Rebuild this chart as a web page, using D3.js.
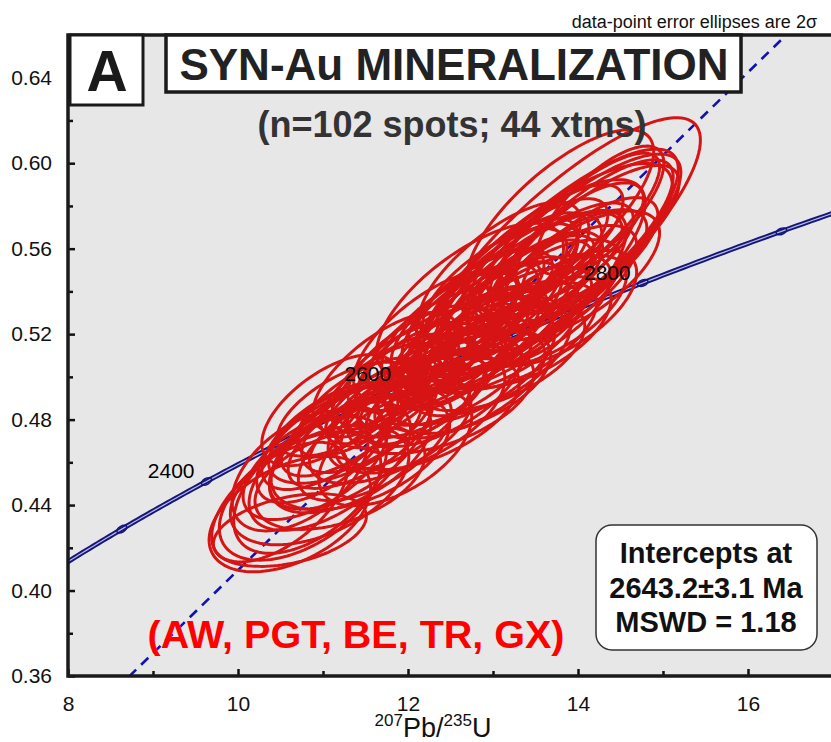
<!DOCTYPE html>
<html>
<head>
<meta charset="utf-8">
<script src="https://cdn.jsdelivr.net/npm/d3@7/dist/d3.min.js"></script>
<style>
  body { margin: 0; background: #fff; }
  svg { display: block; font-family: "Liberation Sans", Arial, sans-serif; }
</style>
</head>
<body>
<div class="chart"></div>
<script>
// axis ticks
const xTicks = [8, 10, 12, 14, 16];
const xMinorTicks = [9, 11, 13, 15];
const yTicks = [0.36, 0.40, 0.44, 0.48, 0.52, 0.56, 0.60, 0.64];
const yMinorTicks = [0.38, 0.42, 0.46, 0.50, 0.54, 0.58, 0.62];

// concordia age markers (Ma) and the ones that get a label
const markerAges = [2300, 2400, 2500, 2600, 2700, 2800, 2900];
const labelAges = [2400, 2600, 2800];

// discordia intercepts (Ma)
const upperIntercept = 2643.2;
const lowerIntercept = 183;

// spots: 207Pb/235U, 206Pb/238U, 2-sigma errors and error correlation
const spotX = [
  10.61, 10.73, 10.85, 10.96, 10.73, 11.08, 11.20, 10.91, 11.32, 10.61,
  10.49, 11.26, 11.02, 11.44, 11.44, 11.26, 11.61, 11.55, 11.79, 11.73,
  11.91, 11.85, 12.02, 12.14, 12.08, 12.26, 12.20, 12.38, 12.44, 12.38,
  12.55, 12.61, 12.55, 12.73, 12.79, 12.73, 12.91, 12.96, 12.85, 13.08,
  13.14, 13.02, 13.26, 13.32, 13.20, 13.44, 13.49, 13.38, 13.61, 13.67,
  13.55, 13.79, 13.85, 13.96, 14.02, 13.73, 14.14, 12.26, 12.61, 12.96,
  13.32, 13.67, 11.91, 12.14, 12.49, 12.85, 13.20, 11.67, 11.44, 11.26,
  12.38, 12.73, 13.08, 13.44, 13.79, 11.85, 11.32, 11.08, 12.67, 13.08,
  13.49, 12.55, 12.91, 12.20, 13.96, 13.79, 13.73, 13.91, 13.61, 14.02,
  13.44, 13.96, 13.32, 14.14, 13.08, 12.26, 11.73, 13.08, 14.26, 11.08,
  13.79, 12.73
];
const spotY = [
  0.4358, 0.4442, 0.4494, 0.4494, 0.4559, 0.4582, 0.4526, 0.4592, 0.4634, 0.4283,
  0.4414, 0.4732, 0.4681, 0.4648, 0.4718, 0.4756, 0.4681, 0.4802, 0.4742, 0.4887,
  0.4826, 0.4971, 0.4887, 0.4830, 0.5046, 0.4966, 0.5083, 0.4933, 0.5069, 0.5167,
  0.5013, 0.5149, 0.5247, 0.5046, 0.5186, 0.5280, 0.5153, 0.5289, 0.5368, 0.5186,
  0.5322, 0.5425, 0.5266, 0.5401, 0.5457, 0.5303, 0.5439, 0.5518, 0.5382, 0.5518,
  0.5574, 0.5439, 0.5574, 0.5523, 0.5658, 0.5630, 0.5579, 0.4826, 0.4961, 0.5078,
  0.5191, 0.5308, 0.5013, 0.5088, 0.5228, 0.5345, 0.5481, 0.4938, 0.4858, 0.4849,
  0.4891, 0.4975, 0.5092, 0.5209, 0.5322, 0.4667, 0.4681, 0.4723, 0.5191, 0.5326,
  0.5462, 0.5036, 0.5200, 0.4896, 0.5476, 0.5593, 0.5546, 0.5593, 0.5499, 0.5616,
  0.5453, 0.5687, 0.5359, 0.5640, 0.5312, 0.5195, 0.5022, 0.5499, 0.5780, 0.4844,
  0.5757, 0.5359
];
const spotErrX = [
  0.95, 0.95, 0.90, 1.05, 0.80, 0.95, 1.00, 0.85, 0.95, 0.90,
  0.80, 0.90, 0.80, 1.05, 0.85, 0.75, 0.90, 0.80, 0.95, 0.70,
  0.85, 0.75, 0.90, 1.00, 0.70, 0.85, 0.80, 0.95, 0.75, 0.85,
  0.90, 0.80, 0.75, 1.00, 0.85, 0.80, 0.90, 0.85, 0.75, 0.95,
  0.80, 0.85, 0.90, 0.85, 0.80, 0.95, 0.80, 0.75, 0.90, 0.85,
  0.80, 0.90, 0.80, 0.85, 0.75, 0.80, 0.80, 1.05, 1.00, 0.95,
  0.90, 0.90, 0.80, 0.85, 0.80, 0.85, 0.80, 0.70, 0.75, 0.80,
  1.10, 0.95, 1.00, 0.95, 0.90, 0.90, 0.95, 0.80, 0.70, 0.70,
  0.70, 0.65, 0.65, 0.70, 1.00, 1.65, 1.45, 1.30, 1.50, 1.10,
  1.35, 1.00, 1.25, 1.05, 1.20, 0.90, 0.85, 0.95, 0.75, 0.80,
  1.10, 1.10
];
const spotErrY = [
  0.027, 0.030, 0.032, 0.028, 0.028, 0.030, 0.024, 0.026, 0.027, 0.017,
  0.028, 0.023, 0.027, 0.027, 0.024, 0.022, 0.026, 0.025, 0.024, 0.020,
  0.026, 0.023, 0.022, 0.028, 0.021, 0.025, 0.024, 0.026, 0.022, 0.025,
  0.024, 0.023, 0.026, 0.027, 0.024, 0.025, 0.022, 0.025, 0.023, 0.026,
  0.024, 0.027, 0.025, 0.024, 0.026, 0.027, 0.024, 0.025, 0.026, 0.025,
  0.026, 0.027, 0.024, 0.026, 0.025, 0.027, 0.026, 0.026, 0.025, 0.026,
  0.025, 0.026, 0.024, 0.025, 0.026, 0.025, 0.026, 0.022, 0.023, 0.022,
  0.025, 0.024, 0.025, 0.026, 0.027, 0.027, 0.030, 0.025, 0.020, 0.021,
  0.020, 0.019, 0.020, 0.021, 0.030, 0.062, 0.052, 0.045, 0.050, 0.040,
  0.047, 0.036, 0.042, 0.035, 0.045, 0.030, 0.028, 0.032, 0.030, 0.026,
  0.040, 0.036
];
const spotRho = [
  0.45, 0.50, 0.53, 0.48, 0.50, 0.58, 0.45, 0.58, 0.54, 0.38,
  0.58, 0.58, 0.62, 0.48, 0.63, 0.66, 0.60, 0.64, 0.58, 0.68,
  0.62, 0.66, 0.60, 0.58, 0.68, 0.64, 0.66, 0.60, 0.68, 0.65,
  0.62, 0.66, 0.68, 0.60, 0.66, 0.68, 0.63, 0.66, 0.68, 0.62,
  0.67, 0.68, 0.64, 0.68, 0.70, 0.63, 0.68, 0.70, 0.65, 0.69,
  0.71, 0.66, 0.70, 0.67, 0.71, 0.72, 0.68, 0.56, 0.58, 0.60,
  0.62, 0.64, 0.66, 0.66, 0.68, 0.69, 0.70, 0.68, 0.66, 0.62,
  0.50, 0.54, 0.58, 0.60, 0.62, 0.54, 0.60, 0.63, 0.70, 0.71,
  0.72, 0.68, 0.70, 0.66, 0.66, 0.83, 0.82, 0.81, 0.79, 0.80,
  0.77, 0.82, 0.77, 0.77, 0.79, 0.70, 0.68, 0.72, 0.73, 0.60,
  0.74, 0.68
];

// decay constants (per year)
const L235 = 9.8485e-10;
const L238 = 1.55125e-10;
function concordia(ma) {
  return [Math.exp(L235 * ma * 1e6) - 1, Math.exp(L238 * ma * 1e6) - 1];
}

const W = 831, H = 742;
const margin = { left: 68, top: 35, bottom: 66 };

const svg = d3.select('.chart').append('svg')
  .attr('width', W)
  .attr('height', H);

const x = d3.scaleLinear().domain([8, 17]).range([margin.left, margin.left + 9 * 85]);
const y = d3.scaleLinear().domain([0.36, 0.66]).range([H - margin.bottom, margin.top]);

const plotW = x(17) - x(8);
const plotH = y(0.36) - y(0.66);

svg.append('defs').append('clipPath').attr('id', 'plot-clip')
  .append('rect')
  .attr('x', x(8)).attr('y', y(0.66))
  .attr('width', plotW).attr('height', plotH);

// background
svg.append('rect')
  .attr('x', x(8)).attr('y', y(0.66))
  .attr('width', plotW).attr('height', plotH)
  .attr('fill', '#e7e7e7');

const plot = svg.append('g').attr('clip-path', 'url(#plot-clip)');

// concordia band
const curveAges = d3.range(2100, 3050, 5);
const lineGen = d3.line().x(d => x(d[0])).y(d => y(d[1]));
const curvePts = curveAges.map(concordia);

plot.append('path')
  .attr('d', lineGen(curvePts))
  .attr('fill', 'none')
  .attr('stroke', '#15157f')
  .attr('stroke-width', 5);
plot.append('path')
  .attr('d', lineGen(curvePts))
  .attr('fill', 'none')
  .attr('stroke', '#b9b9d6')
  .attr('stroke-width', 1.2);

// age markers on the curve
markerAges.forEach(a => {
  const p = concordia(a);
  const dx = L235 * Math.exp(L235 * a * 1e6) * (x(1) - x(0));
  const dy = L238 * Math.exp(L238 * a * 1e6) * (y(1) - y(0));
  const ang = Math.atan2(dy, dx) * 180 / Math.PI;
  plot.append('ellipse')
    .attr('cx', x(p[0])).attr('cy', y(p[1]))
    .attr('rx', 5.5).attr('ry', 3)
    .attr('transform', `rotate(${ang},${x(p[0])},${y(p[1])})`)
    .attr('fill', 'none')
    .attr('stroke', '#15157f')
    .attr('stroke-width', 1.5);
});

// discordia through the two intercepts
const pLow = concordia(lowerIntercept);
const pUp = concordia(upperIntercept);
const slope = (pUp[1] - pLow[1]) / (pUp[0] - pLow[0]);
const discX = [7, 18];
plot.append('path')
  .attr('d', lineGen(discX.map(v => [v, pLow[1] + slope * (v - pLow[0])])))
  .attr('fill', 'none')
  .attr('stroke', '#1212b4')
  .attr('stroke-width', 2.6)
  .attr('stroke-dasharray', '10,7');

// error ellipses
const theta = d3.range(0, 2 * Math.PI, Math.PI / 60);
const ellipseLine = d3.line()
  .x(d => x(d[0])).y(d => y(d[1]))
  .curve(d3.curveLinearClosed);

plot.append('g').selectAll('path')
  .data(d3.range(spotX.length))
  .enter()
  .append('path')
  .attr('d', i => {
    const r = spotRho[i];
    const s = Math.sqrt(1 - r * r);
    return ellipseLine(theta.map(t => [
      spotX[i] + spotErrX[i] * Math.cos(t),
      spotY[i] + spotErrY[i] * (r * Math.cos(t) + s * Math.sin(t))
    ]));
  })
  .attr('fill', 'none')
  .attr('stroke', '#d71414')
  .attr('stroke-width', 3);

// age labels
labelAges.forEach(a => {
  const p = concordia(a);
  svg.append('text')
    .attr('x', x(p[0]) - 12)
    .attr('y', y(p[1]) - 3)
    .attr('text-anchor', 'end')
    .attr('font-size', 21)
    .attr('fill', '#000')
    .text(a);
});

// axes
const yAxis = d3.axisLeft(y).tickValues(yTicks).tickSize(-7).tickPadding(16)
  .tickFormat(d3.format('.2f'));
const yMinor = d3.axisLeft(y).tickValues(yMinorTicks).tickSize(-5).tickFormat('');
const xAxis = d3.axisBottom(x).tickValues(xTicks).tickSize(-7).tickPadding(20)
  .tickFormat(d3.format('d'));
const xMinor = d3.axisBottom(x).tickValues(xMinorTicks).tickSize(-5).tickFormat('');

function styleAxis(g) {
  g.select('.domain').remove();
  g.selectAll('line').attr('stroke', '#111').attr('stroke-width', 2.5);
  g.selectAll('text').attr('font-size', 21).attr('fill', '#111')
    .attr('font-family', '"Liberation Sans", Arial, sans-serif');
}

svg.append('g').attr('transform', `translate(${x(8)},0)`).call(yAxis).call(styleAxis);
svg.append('g').attr('transform', `translate(${x(8)},0)`).call(yMinor).call(styleAxis);
svg.append('g').attr('transform', `translate(0,${y(0.36)})`).call(xAxis).call(styleAxis);
svg.append('g').attr('transform', `translate(0,${y(0.36)})`).call(xMinor).call(styleAxis);

// frame
svg.append('path')
  .attr('d', `M${x(17) + 5},${y(0.66)} H${x(8)} V${y(0.36)} H${x(17) + 5}`)
  .attr('fill', 'none')
  .attr('stroke', '#1a1a1a')
  .attr('stroke-width', 3.5);

// x axis title
const xt = svg.append('text')
  .attr('x', 433).attr('y', 737)
  .attr('text-anchor', 'middle')
  .attr('font-size', 27)
  .attr('fill', '#111');
xt.append('tspan').attr('font-size', 17).attr('dy', -11).text('207');
xt.append('tspan').attr('dy', 11).text('Pb/');
xt.append('tspan').attr('font-size', 17).attr('dy', -11).text('235');
xt.append('tspan').attr('dy', 11).text('U');

// note at top right
svg.append('text')
  .attr('x', 817).attr('y', 28)
  .attr('text-anchor', 'end')
  .attr('font-size', 18)
  .attr('fill', '#111')
  .text('data-point error ellipses are 2σ');

// panel letter
svg.append('rect')
  .attr('x', 70).attr('y', 35).attr('width', 73).attr('height', 70)
  .attr('fill', '#fff').attr('stroke', '#1a1a1a').attr('stroke-width', 3);
svg.append('text')
  .attr('x', 107).attr('y', 91)
  .attr('text-anchor', 'middle')
  .attr('font-size', 57).attr('font-weight', 'bold')
  .attr('fill', '#1a1a1a')
  .text('A');

// title box
svg.append('rect')
  .attr('x', 166).attr('y', 35).attr('width', 575).attr('height', 57)
  .attr('fill', '#fff').attr('stroke', '#1a1a1a').attr('stroke-width', 3.5);
svg.append('text')
  .attr('x', 454).attr('y', 80)
  .attr('text-anchor', 'middle')
  .attr('font-size', 44).attr('font-weight', 'bold')
  .attr('fill', '#222')
  .text('SYN-Au MINERALIZATION');

svg.append('text')
  .attr('x', 452).attr('y', 137)
  .attr('text-anchor', 'middle')
  .attr('font-size', 36).attr('font-weight', 'bold')
  .attr('fill', '#333')
  .text('(n=102 spots; 44 xtms)');

// deposit list
svg.append('text')
  .attr('x', 356).attr('y', 648)
  .attr('text-anchor', 'middle')
  .attr('font-size', 39.5).attr('font-weight', 'bold')
  .attr('fill', '#f00')
  .text('(AW, PGT, BE, TR, GX)');

// intercept box
svg.append('rect')
  .attr('x', 596).attr('y', 525).attr('width', 221).attr('height', 125)
  .attr('rx', 16)
  .attr('fill', '#fff').attr('stroke', '#333').attr('stroke-width', 1.5);
const boxLines = ['Intercepts at', `${upperIntercept}±3.1 Ma`, 'MSWD = 1.18'];
boxLines.forEach((t, i) => {
  svg.append('text')
    .attr('x', 706).attr('y', 563 + i * 34.5)
    .attr('text-anchor', 'middle')
    .attr('font-size', 29).attr('font-weight', 'bold')
    .attr('fill', '#111')
    .text(t);
});
</script>
</body>
</html>
